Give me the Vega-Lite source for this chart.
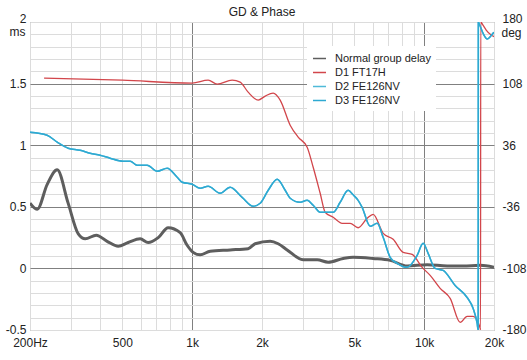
{
  "$schema": "https://vega.github.io/schema/vega-lite/v6.json",
  "width": 464,
  "height": 308,
  "autosize": "none",
  "padding": {"left": 30, "top": 22, "right": 33, "bottom": 30},
  "background": "white",
  "title": {"text": "GD & Phase", "fontSize": 12, "fontWeight": "normal", "font": "Liberation Sans", "color": "#222222", "offset": -7},
  "config": {
    "view": {"stroke": "#8a8a8a"},
    "axis": {"labelFont": "Liberation Sans", "labelFontSize": 12, "labelColor": "#222222", "titleFont": "Liberation Sans", "titleFontSize": 12, "titleFontWeight": "normal", "titleColor": "#222222"},
    "legend": {"orient": "none", "legendX": 277, "legendY": 24, "fillColor": "white", "padding": 5, "symbolType": "stroke", "symbolSize": 169, "symbolStrokeWidth": 1.5, "labelFont": "Liberation Sans", "labelFontSize": 11, "labelColor": "#222222", "rowPadding": 1, "labelOffset": 8}
  },
  "datasets": {
    "gd": [
      {"f": 200, "ms": 0.53}, {"f": 215, "ms": 0.48}, {"f": 237, "ms": 0.68}, {"f": 262, "ms": 0.80},
      {"f": 292, "ms": 0.53}, {"f": 323, "ms": 0.28}, {"f": 346, "ms": 0.24}, {"f": 386, "ms": 0.27},
      {"f": 430, "ms": 0.22}, {"f": 480, "ms": 0.18}, {"f": 530, "ms": 0.21}, {"f": 597, "ms": 0.24},
      {"f": 646, "ms": 0.21}, {"f": 714, "ms": 0.25}, {"f": 788, "ms": 0.33}, {"f": 888, "ms": 0.29},
      {"f": 950, "ms": 0.19}, {"f": 1010, "ms": 0.13}, {"f": 1083, "ms": 0.11}, {"f": 1196, "ms": 0.14},
      {"f": 1458, "ms": 0.15}, {"f": 1743, "ms": 0.16}, {"f": 1869, "ms": 0.20}, {"f": 2169, "ms": 0.22},
      {"f": 2348, "ms": 0.20}, {"f": 2567, "ms": 0.15}, {"f": 3009, "ms": 0.07}, {"f": 3459, "ms": 0.07},
      {"f": 3857, "ms": 0.05}, {"f": 4476, "ms": 0.08}, {"f": 4943, "ms": 0.09}, {"f": 6028, "ms": 0.08},
      {"f": 7136, "ms": 0.065}, {"f": 8448, "ms": 0.02}, {"f": 10300, "ms": 0.03}, {"f": 12565, "ms": 0.02},
      {"f": 14733, "ms": 0.02}, {"f": 17435, "ms": 0.025}, {"f": 20000, "ms": 0.01}
    ],
    "d1": [
      {"f": 230, "deg": 114.4}, {"f": 500, "deg": 112}, {"f": 1000, "deg": 108.6}, {"f": 1172, "deg": 112},
      {"f": 1282, "deg": 107.4}, {"f": 1487, "deg": 112}, {"f": 1610, "deg": 109.7}, {"f": 1743, "deg": 98},
      {"f": 1925, "deg": 88.7}, {"f": 2064, "deg": 93.4}, {"f": 2235, "deg": 96.9}, {"f": 2395, "deg": 88.7},
      {"f": 2645, "deg": 59.4}, {"f": 2864, "deg": 45.4}, {"f": 3131, "deg": 33.7}, {"f": 3324, "deg": 10.2},
      {"f": 3563, "deg": -20.2}, {"f": 3744, "deg": -42.4}, {"f": 4054, "deg": -48.3}, {"f": 4432, "deg": -55.3},
      {"f": 4797, "deg": -55.3}, {"f": 5193, "deg": -60.5}, {"f": 5679, "deg": -49.5}, {"f": 6028, "deg": -44.8},
      {"f": 6658, "deg": -67}, {"f": 7352, "deg": -74}, {"f": 8120, "deg": -89.3}, {"f": 8877, "deg": -91.6},
      {"f": 9804, "deg": -106.8}, {"f": 10614, "deg": -116.2}, {"f": 11722, "deg": -131.4}, {"f": 12946, "deg": -143},
      {"f": 14297, "deg": -171}, {"f": 15321, "deg": -164}, {"f": 16263, "deg": -164}, {"f": 17435, "deg": -178},
      {"f": 17500, "deg": -180}, {"f": 17530, "deg": 180}, {"f": 17960, "deg": 176}, {"f": 18506, "deg": 170.6},
      {"f": 19449, "deg": 164.8}, {"f": 20000, "deg": 163}
    ],
    "blue": [
      {"f": 200, "deg": 51.2}, {"f": 237, "deg": 47.7}, {"f": 262, "deg": 39.5}, {"f": 292, "deg": 32.5},
      {"f": 329, "deg": 30.1}, {"f": 363, "deg": 26.6}, {"f": 401, "deg": 24.3}, {"f": 443, "deg": 20.8},
      {"f": 504, "deg": 17.3}, {"f": 541, "deg": 17.3}, {"f": 579, "deg": 12.6}, {"f": 640, "deg": 12.6},
      {"f": 707, "deg": 5.6}, {"f": 780, "deg": 9.1}, {"f": 862, "deg": -1.5}, {"f": 906, "deg": -7.3},
      {"f": 1000, "deg": -9.7}, {"f": 1083, "deg": -14.3}, {"f": 1172, "deg": -12}, {"f": 1320, "deg": -20.2},
      {"f": 1458, "deg": -13.2}, {"f": 1642, "deg": -24.9}, {"f": 1832, "deg": -35.4}, {"f": 1964, "deg": -31.9},
      {"f": 2127, "deg": -16.7}, {"f": 2325, "deg": -3.8}, {"f": 2517, "deg": -16.7}, {"f": 2645, "deg": -26},
      {"f": 2921, "deg": -30.7}, {"f": 3131, "deg": -28.4}, {"f": 3324, "deg": -34.2}, {"f": 3563, "deg": -42.4},
      {"f": 4054, "deg": -42.4}, {"f": 4345, "deg": -30.7}, {"f": 4703, "deg": -16.7}, {"f": 4943, "deg": -22},
      {"f": 5193, "deg": -28.4}, {"f": 5403, "deg": -36.6}, {"f": 5851, "deg": -58.8}, {"f": 6272, "deg": -55.3},
      {"f": 6658, "deg": -71.7}, {"f": 7136, "deg": -95.1}, {"f": 7648, "deg": -102}, {"f": 8448, "deg": -106.8},
      {"f": 9329, "deg": -92.8}, {"f": 9901, "deg": -78.7}, {"f": 10400, "deg": -90.4}, {"f": 11153, "deg": -108},
      {"f": 12077, "deg": -110.3}, {"f": 13600, "deg": -128}, {"f": 15321, "deg": -142}, {"f": 16263, "deg": -154.8},
      {"f": 16923, "deg": -172.4}, {"f": 17092, "deg": -180}, {"f": 17120, "deg": 180}, {"f": 17263, "deg": 178},
      {"f": 18000, "deg": 166}, {"f": 18693, "deg": 160}, {"f": 19300, "deg": 163}, {"f": 19835, "deg": 167},
      {"f": 20000, "deg": 168}
    ]
  },
  "encoding": {
    "x": {
      "field": "f", "type": "quantitative",
      "scale": {"type": "log", "domain": [200, 20000], "nice": false},
      "axis": {
        "values": [200, 300, 400, 500, 600, 700, 800, 900, 1000, 2000, 3000, 4000, 5000, 6000, 7000, 8000, 9000, 10000, 20000],
        "labelExpr": "datum.value==200?'200Hz':datum.value==500?'500':datum.value==1000?'1k':datum.value==2000?'2k':datum.value==5000?'5k':datum.value==10000?'10k':datum.value==20000?'20k':''",
        "grid": true,
        "gridColor": {"condition": {"test": "datum.value==1000||datum.value==10000", "value": "#808080"}, "value": "#dcdcdc"},
        "ticks": false, "domain": false, "labelPadding": 7, "title": null,
        "labelOverlap": false, "labelFlush": false
      }
    }
  },
  "layer": [
    {
      "data": {"name": "gd"},
      "mark": {"type": "line", "clip": true, "interpolate": "monotone", "strokeJoin": "round", "strokeWidth": 3},
      "encoding": {
        "y": {
          "field": "ms", "type": "quantitative",
          "scale": {"domain": [-0.5, 2], "nice": false, "zero": false},
          "axis": {
            "orient": "left",
            "values": [-0.5, -0.4, -0.3, -0.2, -0.1, 0, 0.1, 0.2, 0.3, 0.4, 0.5, 0.6, 0.7, 0.8, 0.9, 1, 1.1, 1.2, 1.3, 1.4, 1.5, 1.6, 1.7, 1.8, 1.9, 2],
            "labelExpr": "datum.value==-0.5?'-0.5':datum.value==0?'0':datum.value==0.5?'0.5':datum.value==1?'1':datum.value==1.5?'1.5':datum.value==2?'2':''",
            "labelOffset": {"condition": [{"test": "datum.value==2", "value": -4}, {"test": "datum.value==-0.5", "value": -1}], "value": 0},
            "grid": true,
            "gridColor": {"condition": {"test": "datum.value==0||datum.value==0.5||datum.value==1||datum.value==1.5", "value": "#808080"}, "value": "#dcdcdc"},
            "ticks": false, "domain": false, "labelPadding": 4, "labelOverlap": false,
            "title": "ms", "titleAngle": 0, "titleX": -13, "titleY": 9, "titleAlign": "center", "titleBaseline": "middle"
          }
        },
        "color": {
          "datum": "Normal group delay", "type": "nominal",
          "scale": {"domain": ["Normal group delay", "D1 FT17H", "D2 FE126NV", "D3 FE126NV"], "range": ["#5e5e5e", "#d2464b", "#4fbad8", "#2ea9d2"]},
          "legend": {"title": null, "encoding": {"symbols": {"update": {"strokeWidth": {"signal": "datum.label == 'Normal group delay' ? 3 : 1.5"}}}}}
        }
      }
    },
    {
      "encoding": {
        "y": {
          "field": "deg", "type": "quantitative",
          "scale": {"domain": [-180, 180], "nice": false, "zero": false},
          "axis": {
            "orient": "right",
            "values": [-180, -108, -36, 36, 108, 180],
            "labelExpr": "datum.value<0?'-'+abs(datum.value):''+datum.value",
            "labelOffset": {"condition": [{"test": "datum.value==180", "value": -4}, {"test": "datum.value==-180", "value": -1}], "value": 0},
            "grid": false, "ticks": false, "domain": false, "labelPadding": 8, "labelOverlap": false,
            "title": "deg", "titleAngle": 0, "titleX": 17, "titleY": 10, "titleAlign": "center", "titleBaseline": "middle"
          }
        }
      },
      "layer": [
        {
          "data": {"name": "d1"},
          "mark": {"type": "line", "clip": true, "interpolate": "monotone", "strokeWidth": 1.3},
          "encoding": {"color": {"datum": "D1 FT17H", "type": "nominal"}}
        },
        {
          "data": {"name": "blue"},
          "mark": {"type": "line", "clip": true, "interpolate": "monotone", "strokeWidth": 1.5},
          "encoding": {"color": {"datum": "D2 FE126NV", "type": "nominal"}}
        },
        {
          "data": {"name": "blue"},
          "mark": {"type": "line", "clip": true, "interpolate": "monotone", "strokeWidth": 1.5},
          "encoding": {"color": {"datum": "D3 FE126NV", "type": "nominal"}}
        }
      ]
    }
  ],
  "resolve": {"scale": {"y": "independent"}}
}
